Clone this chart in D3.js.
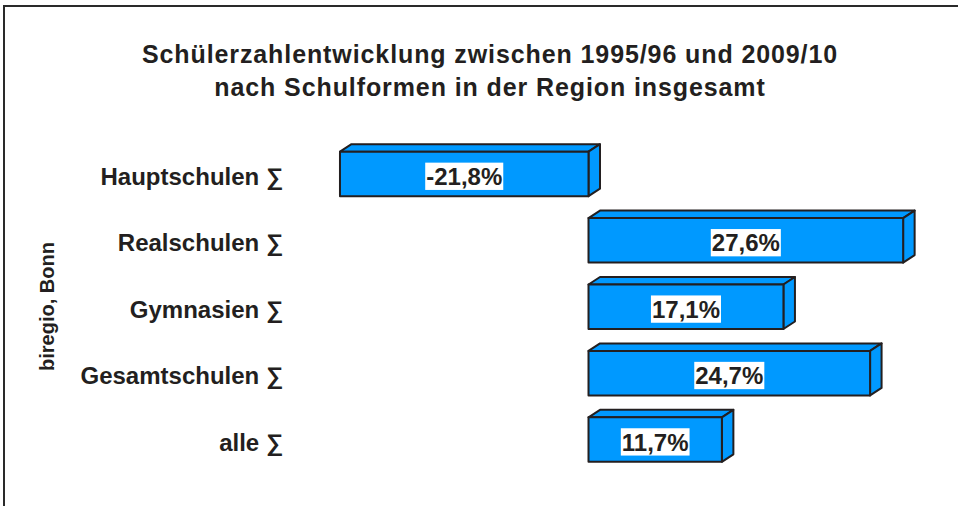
<!DOCTYPE html>
<html><head><meta charset="utf-8">
<script src="https://cdn.jsdelivr.net/npm/d3@7"></script>
<style>html,body{margin:0;padding:0;background:#fff;}svg{display:block;font-family:"Liberation Sans",Arial,sans-serif;}</style>
</head><body>
<script>
const categories = ["Hauptschulen ∑","Realschulen ∑","Gymnasien ∑","Gesamtschulen ∑","alle ∑"];
const values = [-21.8, 27.6, 17.1, 24.7, 11.7];
const valueLabels = ["-21,8%","27,6%","17,1%","24,7%","11,7%"];
const titleLines = ["Schülerzahlentwicklung zwischen 1995/96 und 2009/10","nach Schulformen in der Region insgesamt"];
const sourceText = "biregio, Bonn";

const W = 958, H = 506;
const svg = d3.select("body").append("svg").attr("width", W).attr("height", H);

// frame
svg.append("path").attr("d", `M4,${H} L4,6 L${W},6`).attr("fill","none").attr("stroke","#2a2a2a").attr("stroke-width",2);

// title
svg.append("g").selectAll("text").data(titleLines).join("text")
  .attr("x", 490).attr("y", (d,i)=>63 + i*32.5)
  .attr("text-anchor","middle").attr("font-weight","bold").attr("font-size",25)
  .attr("letter-spacing",0.9)
  .attr("fill","#231f20").text(d=>d);

// source
svg.append("text").attr("transform","translate(54,306.5) rotate(-90)")
  .attr("text-anchor","middle").attr("font-weight","bold").attr("font-size",20)
  .attr("fill","#231f20").text(sourceText);

const x = d3.scaleLinear().domain([-25, 30]).range([588.5 - 25*11.4, 588.5 + 30*11.4]);
const y = d3.scaleBand().domain(categories).range([151.7, 461.8]).paddingInner(0.33).paddingOuter(0);

const dx = 11.5, dy = -7.5;
const data = categories.map((c,i)=>({c, v: values[i], lab: valueLabels[i]}));

const g = svg.append("g");
const bars = g.selectAll("g.bar").data(data).join("g").attr("class","bar");
bars.each(function(d){
  const sel = d3.select(this);
  const x0 = Math.min(x(0), x(d.v)), x1 = Math.max(x(0), x(d.v));
  const y0 = y(d.c), y1 = y0 + y.bandwidth();
  const st = {fill:"#0099ff", stroke:"#231f20", "stroke-width":2, "stroke-linejoin":"round"};
  const apply = s => { for (const k in st) s.attr(k, st[k]); return s; };
  apply(sel.append("path").attr("d", `M${x0},${y0} L${x0+dx},${y0+dy} L${x1+dx},${y0+dy} L${x1},${y0} Z`));
  apply(sel.append("path").attr("d", `M${x1},${y0} L${x1+dx},${y0+dy} L${x1+dx},${y1+dy} L${x1},${y1} Z`));
  apply(sel.append("rect").attr("x", x0).attr("y", y0).attr("width", x1-x0).attr("height", y1-y0));
  const cx = (x0+x1)/2, cy = (y0+y1)/2;
  const t = sel.append("text").attr("x", cx).attr("y", cy+11).attr("text-anchor","middle")
    .attr("font-weight","bold").attr("font-size",24).attr("fill","#231f20").text(d.lab);
  const bb = t.node().getBBox();
  sel.insert("rect", "text").attr("x", bb.x-1).attr("y", cy-11.3).attr("width", bb.width+2).attr("height", 27.3).attr("fill","#fff");
});

// category labels
svg.append("g").selectAll("text").data(data).join("text")
  .attr("x", 283).attr("y", d=>y(d.c)+y.bandwidth()/2+11)
  .attr("text-anchor","end").attr("font-weight","bold").attr("font-size",24)
  .attr("fill","#231f20").text(d=>d.c);
</script>
</body></html>
